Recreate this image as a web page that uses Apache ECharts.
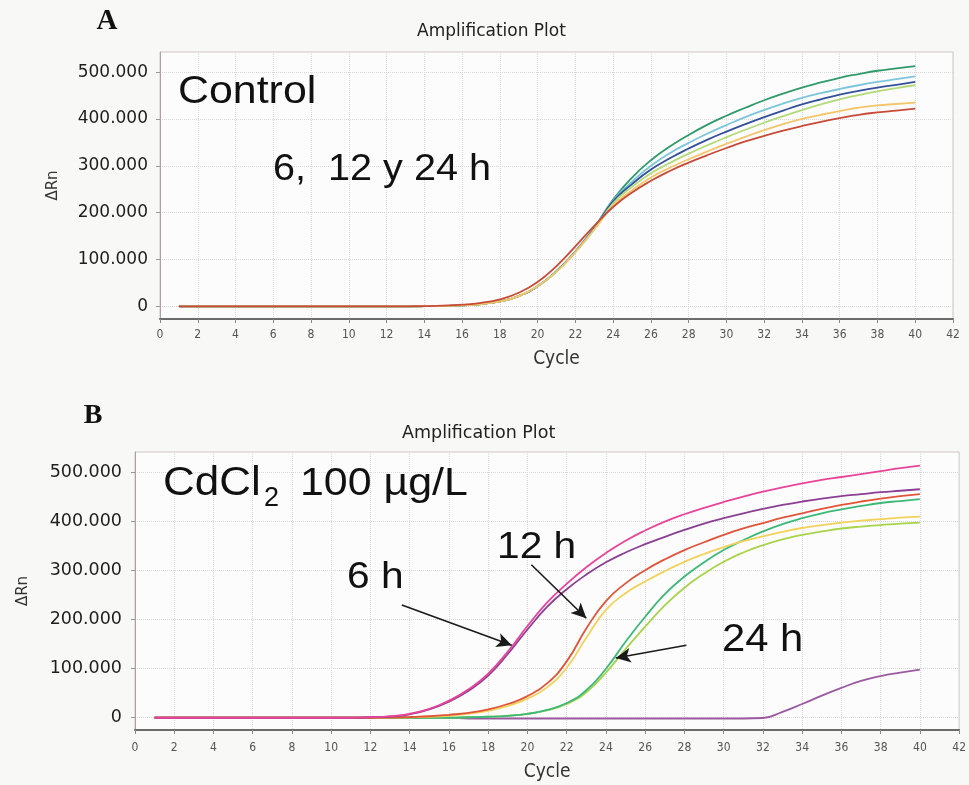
<!DOCTYPE html>
<html><head><meta charset="utf-8">
<script src="https://cdn.jsdelivr.net/npm/echarts@6/dist/echarts.min.js"></script>
<style>html,body{margin:0;padding:0;background:#f8f8f6}#c{width:969px;height:785px}</style>
</head><body><div id="c"></div>
<script>
// ---------------- DATA ----------------
const cycles = [1,2,3,4,5,6,7,8,9,10,11,12,13,14,15,16,17,18,19,20,21,22,23,24,25,26,27,28,29,30,31,32,33,34,35,36,37,38,39,40];
const yTickValues = [0,100000,200000,300000,400000,500000];

// Panel A: Control (6, 12 y 24 h)
const ctrlGreen = [0,0,0,0,0,0,0,0,0,0,0,0,0,300,900,2200,5000,10500,22000,43000,75000,117000,168000,228000,275000,312000,341000,366000,388000,407000,424000,440000,454000,467000,478000,488000,496000,503000,508000,513000];
const ctrlCyan = [0,0,0,0,0,0,0,0,0,0,0,0,0,300,900,2200,5000,10500,22000,43000,75000,117000,167000,226000,266000,300000,327000,349000,369000,387000,404000,419000,433000,445000,455000,464000,472000,479000,485000,491000];
const ctrlBlue = [0,0,0,0,0,0,0,0,0,0,0,0,0,300,900,2200,5000,10500,22000,43000,75000,117000,166000,224000,261000,292000,316000,337000,356000,373000,389000,404000,418000,431000,442000,452000,460000,467000,473000,479000];
const ctrlLightGreen = [0,0,0,0,0,0,0,0,0,0,0,0,0,300,900,2200,5000,10500,22000,43000,74000,116000,164000,220000,255000,284000,306000,326000,344000,361000,377000,392000,406000,419000,431000,442000,451000,459000,466000,472000];
const ctrlYellow = [0,0,0,0,0,0,0,0,0,0,0,0,0,300,900,2200,5000,10500,22000,43000,74000,116000,164000,215000,248000,275000,296000,314000,331000,347000,362000,376000,389000,400000,409000,417000,424000,429000,432000,435000];
const ctrlRed = [0,0,0,0,0,0,0,0,0,0,0,0,0,500,1500,3500,7500,15000,29000,52000,86000,128000,172000,212000,243000,268000,289000,307000,323000,338000,352000,364000,375000,385000,394000,402000,409000,414000,418000,422000];

// Panel B: CdCl2 100 µg/L
const cd6hPink = [0,0,0,0,0,0,0,0,0,0,0,1000,3000,8000,18000,35000,58000,90000,135000,187000,235000,273000,307000,336000,361000,382000,400000,415000,428000,440000,451000,461000,470000,478000,485000,491000,497000,503000,509000,514000];
const cd6hPurple = [0,0,0,0,0,0,0,0,0,0,0,1000,2500,7000,17000,33000,55000,86000,130000,180000,226000,262000,292000,317000,337000,354000,369000,383000,396000,407000,417000,426000,434000,441000,447000,452000,456000,460000,463000,466000];
const cd12hRed = [0,0,0,0,0,0,0,0,0,0,0,0,500,1500,3000,6000,10000,17000,28000,44000,70000,115000,182000,238000,274000,301000,323000,342000,358000,373000,386000,397000,408000,417000,426000,434000,441000,447000,452000,456000];
const cd12hYellow = [0,0,0,0,0,0,0,0,0,0,0,0,300,1000,2000,4000,8000,14000,24000,39000,62000,102000,163000,220000,254000,278000,299000,318000,334000,348000,360000,370000,379000,387000,393000,398000,402000,405000,408000,410000];
const cd24hGreen = [0,0,0,0,0,0,0,0,0,0,0,0,0,0,0,0,1000,2000,4000,8000,16000,30000,56000,100000,155000,206000,252000,288000,317000,342000,362000,380000,395000,407000,417000,425000,432000,438000,442000,446000];
const cd24hLightGreen = [0,0,0,0,0,0,0,0,0,0,0,0,0,0,0,0,1000,2000,4000,8000,15000,28000,52000,92000,140000,186000,229000,265000,294000,318000,337000,352000,364000,373000,380000,386000,390000,393000,396000,398000];
const cdLatePurple = [0,0,0,0,0,0,0,0,0,0,0,0,0,0,0,0,-1500,-1500,-1500,-1500,-1500,-1500,-1500,-1500,-1500,-1500,-1500,-1500,-1500,-1500,-1500,-500,12000,28000,45000,61000,75000,85000,92000,98000];

// Arrow annotations in data coordinates of panel B: [from, to]
const arrow6h = [[13.6, 230000], [19.2, 148000]];
const arrow12h = [[20.2, 312000], [23.0, 203000]];
const arrow24h = [[28.1, 148000], [24.5, 122000]];

// ---------------- CHART ----------------
const chart = echarts.init(document.getElementById('c'), null, {renderer: 'canvas'});
const pts = vals => cycles.map((c, i) => [c, vals[i]]);
const labelFont = "'DejaVu Sans', sans-serif";
const narrowFont = "'Liberation Sans Narrow', 'DejaVu Sans Condensed', sans-serif";
const bigFont = "'Liberation Sans', Arial, sans-serif";

function lineSeries(name, vals, color, idx, extra) {
  return Object.assign({
    name, type: 'line', xAxisIndex: idx, yAxisIndex: idx,
    data: pts(vals), showSymbol: false, smooth: 0.5,
    lineStyle: {color, width: 1.8}, itemStyle: {color},
    silent: true, animation: false
  }, extra || {});
}

function xAx(gridIndex, margin, nameGap) {
  return {
    type: 'value', gridIndex, min: 0, max: 42, interval: 2,
    axisLine: {show: true, onZero: false, lineStyle: {color: '#6b6b6b', width: 2}},
    axisTick: {show: true, length: 4, lineStyle: {color: '#888'}},
    axisLabel: {fontSize: 12, color: '#555', fontFamily: narrowFont, margin, showMinLabel: true, showMaxLabel: true},
    splitLine: {show: true, lineStyle: {color: '#d9d9d9', type: 'dotted'}},
    name: 'Cycle', nameLocation: 'middle', nameGap,
    nameTextStyle: {fontSize: 19, color: '#333', fontFamily: narrowFont}
  };
}
function yAx(gridIndex, min, max, fontSize, margin, nameGap) {
  return {
    type: 'value', gridIndex, min, max,
    axisLine: {show: true, onZero: false, lineStyle: {color: '#b39e9e', width: 1}},
    axisTick: {show: true, length: 4, customValues: yTickValues, lineStyle: {color: '#999'}},
    axisLabel: {customValues: yTickValues, fontSize, color: '#1e1e1e', fontFamily: labelFont, margin,
      formatter: v => v === 0 ? '0' : (v / 1000) + '.000'},
    splitLine: {show: true, customValues: yTickValues, lineStyle: {color: '#d9d9d9', type: 'dotted'}},
    name: 'ΔRn', nameLocation: 'middle', nameRotate: 90, nameGap,
    nameTextStyle: {fontSize: 15, color: '#333', fontFamily: labelFont}
  };
}

function txt(text, x, y, size, sx) {
  return {
    type: 'text', x, y, scaleX: sx || 1.1, z: 100,
    style: {text, font: size + 'px ' + bigFont, fill: '#111', align: 'left', verticalAlign: 'middle'}
  };
}

const arrowStyle = {
  silent: true, animation: false, symbol: ['none', 'arrow'], symbolSize: [11, 15],
  label: {show: false}, lineStyle: {color: '#1a1a1a', width: 1.6, type: 'solid'},
  itemStyle: {color: '#1a1a1a'},
  emphasis: {disabled: true},
  data: [arrow6h, arrow12h, arrow24h].map(a => [{coord: a[0]}, {coord: a[1]}])
};

chart.setOption({
  backgroundColor: '#f8f8f6',
  animation: false,
  title: [
    {text: 'Amplification Plot', left: 417, top: 23, padding: 0,
     textStyle: {fontSize: 17, fontWeight: 'normal', color: '#222', fontFamily: labelFont}},
    {text: 'Amplification Plot', left: 402, top: 424, padding: 0,
     textStyle: {fontSize: 17.5, fontWeight: 'normal', color: '#222', fontFamily: labelFont}}
  ],
  grid: [
    {left: 160, top: 52, width: 793, height: 267, show: true, backgroundColor: '#fcfcfc', borderColor: '#d0c6c6', borderWidth: 1},
    {left: 135, top: 452, width: 827, height: 278, show: true, backgroundColor: '#fcfcfc', borderColor: '#d0c6c6', borderWidth: 1}
  ],
  xAxis: [xAx(0, 10, 31), xAx(1, 12, 33)],
  yAxis: [yAx(0, -27000, 543000, 17, 12, 99), yAx(1, -25000, 542000, 17.5, 13, 104)],
  series: [
    lineSeries('Control green', ctrlGreen, '#2f9a6a', 0),
    lineSeries('Control cyan', ctrlCyan, '#7cc6dc', 0),
    lineSeries('Control blue', ctrlBlue, '#34509a', 0),
    lineSeries('Control light green', ctrlLightGreen, '#b3da78', 0),
    lineSeries('Control yellow', ctrlYellow, '#f4c66a', 0),
    lineSeries('Control red', ctrlRed, '#c84a38', 0),
    lineSeries('Late purple', cdLatePurple, '#9b5aa0', 1),
    lineSeries('24 h light green', cd24hLightGreen, '#a8d44a', 1),
    lineSeries('24 h green', cd24hGreen, '#3cb878', 1),
    lineSeries('12 h yellow', cd12hYellow, '#f2d25a', 1),
    lineSeries('12 h red', cd12hRed, '#e0553a', 1),
    lineSeries('6 h purple', cd6hPurple, '#8b3f93', 1),
    lineSeries('6 h pink', cd6hPink, '#e8449a', 1, {markLine: arrowStyle})
  ],
  graphic: [
    {type: 'text', x: 107, y: 22, z: 100, style: {text: 'A', font: 'bold 29px "Liberation Serif", "Times New Roman", serif', fill: '#111', align: 'center', verticalAlign: 'middle'}},
    {type: 'text', x: 93, y: 416, z: 100, style: {text: 'B', font: 'bold 28px "Liberation Serif", "Times New Roman", serif', fill: '#111', align: 'center', verticalAlign: 'middle'}},
    txt('Control', 178, 92, 39),
    txt('6,  12 y 24 h', 273, 170, 36),
    txt('CdCl', 163, 484, 40),
    txt('2', 264, 499, 27, 1.0),
    txt('100 µg/L', 300, 484, 39),
    txt('6 h', 347, 578, 37),
    txt('12 h', 497, 548, 37),
    txt('24 h', 722, 641, 38)
  ]
});
</script></body></html>
